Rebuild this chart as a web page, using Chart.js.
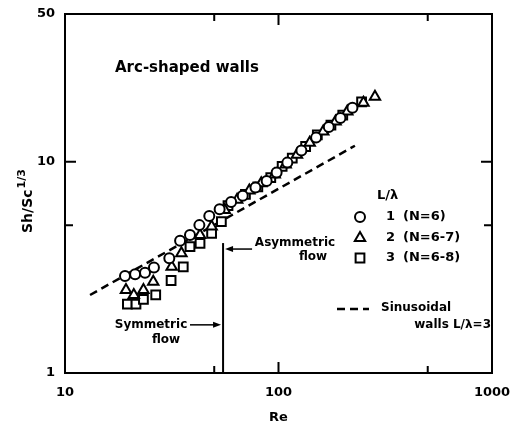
<!DOCTYPE html>
<html>
<head>
<meta charset="utf-8">
<script src="https://cdn.jsdelivr.net/npm/chart.js@4/dist/chart.umd.min.js"></script>
<style>html,body{margin:0;padding:0;background:#fff}</style>
</head>
<body>
<canvas id="myChart" width="513" height="429"></canvas>
<script>
const FONT = '"DejaVu Sans", sans-serif'

// axes
const xTicks = [10, 50, 100, 500, 1000]
const xLabels = [10, 100, 1000]
const yTicks = [1, 5, 10, 50]
const yLabels = [1, 10, 50]

// L/λ = 1 (N=6)
const reCircle = [19.1, 21.3, 23.7, 26.1, 30.8, 34.6, 38.5, 42.6, 47.4, 53, 60, 68, 78, 88, 98, 110, 128, 150, 172, 195, 222]
const shCircle = [2.88, 2.93, 2.98, 3.16, 3.49, 4.23, 4.50, 5.01, 5.53, 5.95, 6.45, 6.9, 7.55, 8.1, 8.9, 9.9, 11.3, 13.0, 14.6, 16.1, 18.0]

// L/λ = 2 (N=6-7)
const reTriangle = [19.3, 21.0, 23.3, 25.9, 31.6, 35.1, 42.9, 48.6, 56, 64, 73, 83, 96, 108, 122, 140, 162, 185, 210, 250, 283]
const shTriangle = [2.47, 2.34, 2.47, 2.70, 3.18, 3.69, 4.50, 4.93, 5.9, 6.6, 7.3, 7.9, 8.7, 9.7, 10.8, 12.3, 13.9, 15.5, 17.3, 19.0, 20.3]

// L/λ = 3 (N=6-8)
const reSquare = [19.6, 21.5, 23.3, 26.6, 31.4, 35.8, 38.5, 42.9, 48.6, 54, 58, 70, 80, 92, 104, 116, 134, 152, 176, 200, 245]
const shSquare = [2.12, 2.12, 2.23, 2.34, 2.74, 3.18, 3.96, 4.11, 4.58, 5.2, 6.2, 7.0, 7.6, 8.4, 9.5, 10.4, 11.8, 13.4, 14.9, 16.6, 19.2]

// sinusoidal walls L/λ=3
const reSinus = [13.1, 228]
const shSinus = [2.34, 11.9]

// symmetric / asymmetric transition
const reTransition = [55, 55]
const shTransition = [1, 4.12]

function zip(xs, ys) {
    return xs.map((x, i) => ({ x: x, y: ys[i] }))
}

const markerStyle = {
    type: 'scatter',
    borderColor: '#000',
    backgroundColor: '#fff',
    borderWidth: 2,
}

const extras = {
    id: 'extras',
    afterDraw(chart) {
        const ctx = chart.ctx
        const a = chart.chartArea
        const xs = chart.scales.x
        const ys = chart.scales.y
        ctx.save()
        ctx.strokeStyle = '#000'
        ctx.fillStyle = '#000'

        // frame
        ctx.lineWidth = 2
        ctx.strokeRect(a.left, a.top, a.right - a.left, a.bottom - a.top)

        // inward ticks on all four sides
        ctx.beginPath()
        xTicks.slice(1, -1).forEach(v => {
            const px = xs.getPixelForValue(v)
            const len = v === 100 ? 11 : 7
            ctx.moveTo(px, a.bottom); ctx.lineTo(px, a.bottom - len)
            ctx.moveTo(px, a.top); ctx.lineTo(px, a.top + len)
        })
        yTicks.slice(1, -1).forEach(v => {
            const py = ys.getPixelForValue(v)
            const len = v === 10 ? 11 : 8
            ctx.moveTo(a.left, py); ctx.lineTo(a.left + len, py)
            ctx.moveTo(a.right, py); ctx.lineTo(a.right - len, py)
        })
        ctx.stroke()

        // arrows to the transition line
        const lineX = xs.getPixelForValue(55)
        function arrow(x1, x2, y) {
            const dir = x2 > x1 ? 1 : -1
            ctx.lineWidth = 1.5
            ctx.beginPath(); ctx.moveTo(x1, y); ctx.lineTo(x2 - dir * 6, y); ctx.stroke()
            ctx.beginPath()
            ctx.moveTo(x2, y)
            ctx.lineTo(x2 - dir * 8, y - 3)
            ctx.lineTo(x2 - dir * 8, y + 3)
            ctx.closePath(); ctx.fill()
        }
        arrow(xs.getPixelForValue(75.2), lineX + 2, ys.getPixelForValue(3.86))
        arrow(xs.getPixelForValue(38.5), lineX - 2, ys.getPixelForValue(1.69))

        // annotations
        ctx.textBaseline = 'middle'
        ctx.font = 'bold 15px ' + FONT
        ctx.textAlign = 'left'
        ctx.fillText('Arc-shaped walls', 115, 68)

        ctx.font = 'bold 12px ' + FONT
        ctx.textAlign = 'center'
        ctx.fillText('Asymmetric', 295, 243)
        ctx.fillText('flow', 313, 257)
        ctx.fillText('Symmetric', 151, 325)
        ctx.fillText('flow', 166, 340)

        // legend
        ctx.font = 'bold 13px ' + FONT
        ctx.textAlign = 'left'
        ctx.fillText('L/λ', 377, 196)
        const rows = [
            ['circle', 5, '1', '(N=6)', 217],
            ['triangle', 6, '2', '(N=6-7)', 238],
            ['rect', 6.2, '3', '(N=6-8)', 258],
        ]
        rows.forEach(r => {
            ctx.fillStyle = '#fff'
            ctx.strokeStyle = '#000'
            ctx.lineWidth = 2
            Chart.helpers.drawPoint(ctx, { pointStyle: r[0], radius: r[1], borderWidth: 2, rotation: 0 }, 360, r[4])
            ctx.fillStyle = '#000'
            ctx.textAlign = 'right'
            ctx.fillText(r[2], 395, r[4])
            ctx.textAlign = 'left'
            ctx.fillText(r[3], 403, r[4])
        })

        ctx.lineWidth = 2.5
        ctx.setLineDash([8, 5])
        ctx.beginPath(); ctx.moveTo(337, 309); ctx.lineTo(369, 309); ctx.stroke()
        ctx.setLineDash([])
        ctx.font = 'bold 12px ' + FONT
        ctx.textAlign = 'left'
        ctx.fillText('Sinusoidal', 381, 308)
        ctx.textAlign = 'right'
        ctx.fillText('walls L/λ=3', 491, 325)

        // y axis title with superscript
        ctx.translate(28, 233)
        ctx.rotate(-Math.PI / 2)
        ctx.textAlign = 'left'
        ctx.font = 'bold 14px ' + FONT
        ctx.fillText('Sh/Sc', 0, 0)
        const w = ctx.measureText('Sh/Sc').width
        ctx.font = 'bold 11px ' + FONT
        ctx.fillText('1/3', w + 1, -6)
        ctx.restore()
    }
}

const config = {
    type: 'scatter',
    data: {
        datasets: [
            Object.assign({}, markerStyle, { label: 'L/λ = 1 (N=6)', data: zip(reCircle, shCircle), pointStyle: 'circle', pointRadius: 5 }),
            Object.assign({}, markerStyle, { label: 'L/λ = 2 (N=6-7)', data: zip(reTriangle, shTriangle), pointStyle: 'triangle', pointRadius: 6 }),
            Object.assign({}, markerStyle, { label: 'L/λ = 3 (N=6-8)', data: zip(reSquare, shSquare), pointStyle: 'rect', pointRadius: 6.2 }),
            {
                label: 'Sinusoidal walls L/λ=3',
                data: zip(reSinus, shSinus),
                showLine: true,
                borderColor: '#000',
                borderWidth: 2.5,
                borderDash: [8, 5],
                pointRadius: 0,
            },
            {
                label: 'transition',
                data: zip(reTransition, shTransition),
                showLine: true,
                borderColor: '#000',
                borderWidth: 2,
                pointRadius: 0,
            },
        ]
    },
    options: {
        responsive: false,
        animation: false,
        layout: { padding: { top: 14, right: 21, left: 0, bottom: 0 } },
        plugins: {
            legend: { display: false },
            tooltip: { enabled: false },
        },
        scales: {
            x: {
                type: 'logarithmic',
                min: 10,
                max: 1000,
                grid: { display: false, drawTicks: false },
                border: { display: false },
                afterBuildTicks: s => { s.ticks = xTicks.map(v => ({ value: v })) },
                afterFit: s => {
                    s.height = 56
                    s.paddingLeft = 0
                    s.paddingRight = 0
                },
                ticks: {
                    color: '#000',
                    padding: 12,
                    maxRotation: 0,
                    autoSkip: false,
                    font: { family: FONT, size: 13, weight: 'bold' },
                    callback: v => xLabels.includes(v) ? String(v) : '',
                },
                title: {
                    display: true,
                    text: 'Re',
                    color: '#000',
                    padding: { top: 0, bottom: 4 },
                    font: { family: FONT, size: 13, weight: 'bold' },
                },
            },
            y: {
                type: 'logarithmic',
                min: 1,
                max: 50,
                grid: { display: false, drawTicks: false },
                border: { display: false },
                afterBuildTicks: s => { s.ticks = yTicks.map(v => ({ value: v })) },
                afterFit: s => {
                    s.width = 65
                    s.paddingTop = 0
                    s.paddingBottom = 0
                },
                ticks: {
                    color: '#000',
                    padding: 10,
                    autoSkip: false,
                    font: { family: FONT, size: 13, weight: 'bold' },
                    callback: v => yLabels.includes(v) ? String(v) : '',
                },
            },
        }
    },
    plugins: [extras]
}

let myChart = new Chart(document.getElementById('myChart'), config)
</script>
</body>
</html>
